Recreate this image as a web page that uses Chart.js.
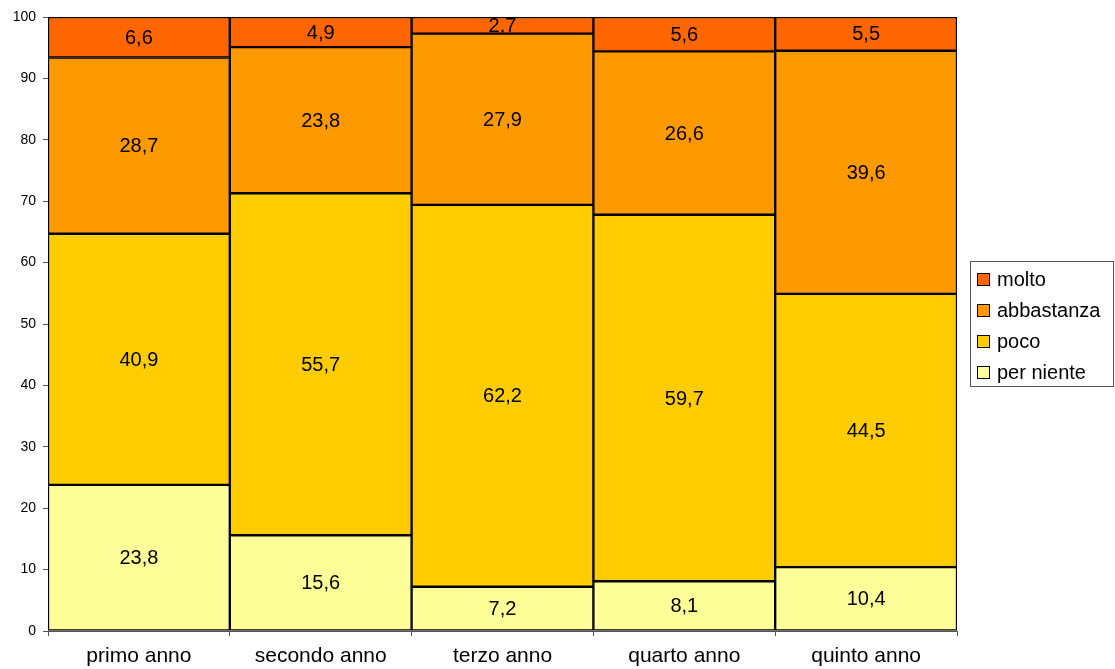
<!DOCTYPE html>
<html>
<head>
<meta charset="utf-8">
<script src="https://cdn.jsdelivr.net/npm/chart.js@4"></script>
<style>
  html, body { margin: 0; padding: 0; background: #fff; }
  #wrap { width: 1115px; height: 669px; }
</style>
</head>
<body>
<div id="wrap"><canvas id="chart" width="1115" height="669"></canvas></div>
<script>
var anni = ["primo anno", "secondo anno", "terzo anno", "quarto anno", "quinto anno"];
var perNiente = [23.8, 15.6, 7.2, 8.1, 10.4];
var poco = [40.9, 55.7, 62.2, 59.7, 44.5];
var abbastanza = [28.7, 23.8, 27.9, 26.6, 39.6];
var molto = [6.6, 4.9, 2.7, 5.6, 5.5];
var yTicks = [0, 10, 20, 30, 40, 50, 60, 70, 80, 90, 100];

var FONT = "'Liberation Sans', Arial, sans-serif";

// etichette dei valori al centro di ogni segmento
var valueLabels = {
  id: 'valueLabels',
  afterDatasetsDraw: function (chart) {
    var ctx = chart.ctx;
    ctx.save();
    ctx.font = '20px ' + FONT;
    ctx.fillStyle = '#000';
    ctx.textAlign = 'center';
    ctx.textBaseline = 'middle';
    chart.data.datasets.forEach(function (ds, i) {
      chart.getDatasetMeta(i).data.forEach(function (bar, j) {
        var y = (bar.y + bar.base) / 2;
        ctx.fillText(String(ds.data[j]).replace('.', ','), bar.x, y + 1);
      });
    });
    ctx.restore();
  }
};

// legenda con cornice a destra
var boxLegend = {
  id: 'boxLegend',
  afterDraw: function (chart) {
    var ctx = chart.ctx;
    var left = 970, top = 261, w = 144, h = 126;
    ctx.save();
    ctx.fillStyle = '#fff';
    ctx.fillRect(left, top, w, h);
    ctx.strokeStyle = '#555';
    ctx.lineWidth = 1;
    ctx.strokeRect(left + 0.5, top + 0.5, w - 1, h - 1);
    ctx.font = '20px ' + FONT;
    ctx.textBaseline = 'middle';
    var items = chart.data.datasets.slice().reverse();
    items.forEach(function (ds, k) {
      var cy = 279 + k * 31;
      ctx.fillStyle = ds.backgroundColor;
      ctx.fillRect(977, cy - 6, 13, 13);
      ctx.strokeStyle = '#000';
      ctx.strokeRect(977.5, cy - 5.5, 12, 12);
      ctx.fillStyle = '#000';
      ctx.fillText(ds.label, 997, cy + 1);
    });
    ctx.restore();
  }
};

function serie(label, data, color) {
  return {
    label: label,
    data: data,
    backgroundColor: color,
    borderColor: '#000',
    borderWidth: 1.5,
    borderSkipped: false,
    barPercentage: 1,
    categoryPercentage: 1
  };
}

new Chart(document.getElementById('chart'), {
  type: 'bar',
  data: {
    labels: anni,
    datasets: [
      serie('per niente', perNiente, '#FFFF99'),
      serie('poco', poco, '#FFCC00'),
      serie('abbastanza', abbastanza, '#FF9900'),
      serie('molto', molto, '#FF6600')
    ]
  },
  options: {
    responsive: false,
    animation: false,
    layout: { padding: { top: 17, right: 158, bottom: 0, left: 0 } },
    plugins: {
      legend: { display: false },
      tooltip: { enabled: false }
    },
    scales: {
      x: {
        stacked: true,
        afterFit: function (s) { s.height = 38; },
        grid: { drawOnChartArea: false, tickLength: 5, color: '#555' },
        border: { color: '#555', width: 1 },
        ticks: { color: '#000', font: { size: 21, family: FONT }, padding: 8, maxRotation: 0 }
      },
      y: {
        stacked: true,
        min: 0,
        max: 100,
        afterFit: function (s) { s.width = 48; },
        afterBuildTicks: function (s) { s.ticks = yTicks.map(function (v) { return { value: v }; }); },
        grid: { drawOnChartArea: false, tickLength: 5, color: '#555' },
        border: { color: '#555', width: 1 },
        ticks: { color: '#000', font: { size: 14, family: FONT }, padding: 7 }
      }
    }
  },
  plugins: [valueLabels, boxLegend]
});
</script>
</body>
</html>
